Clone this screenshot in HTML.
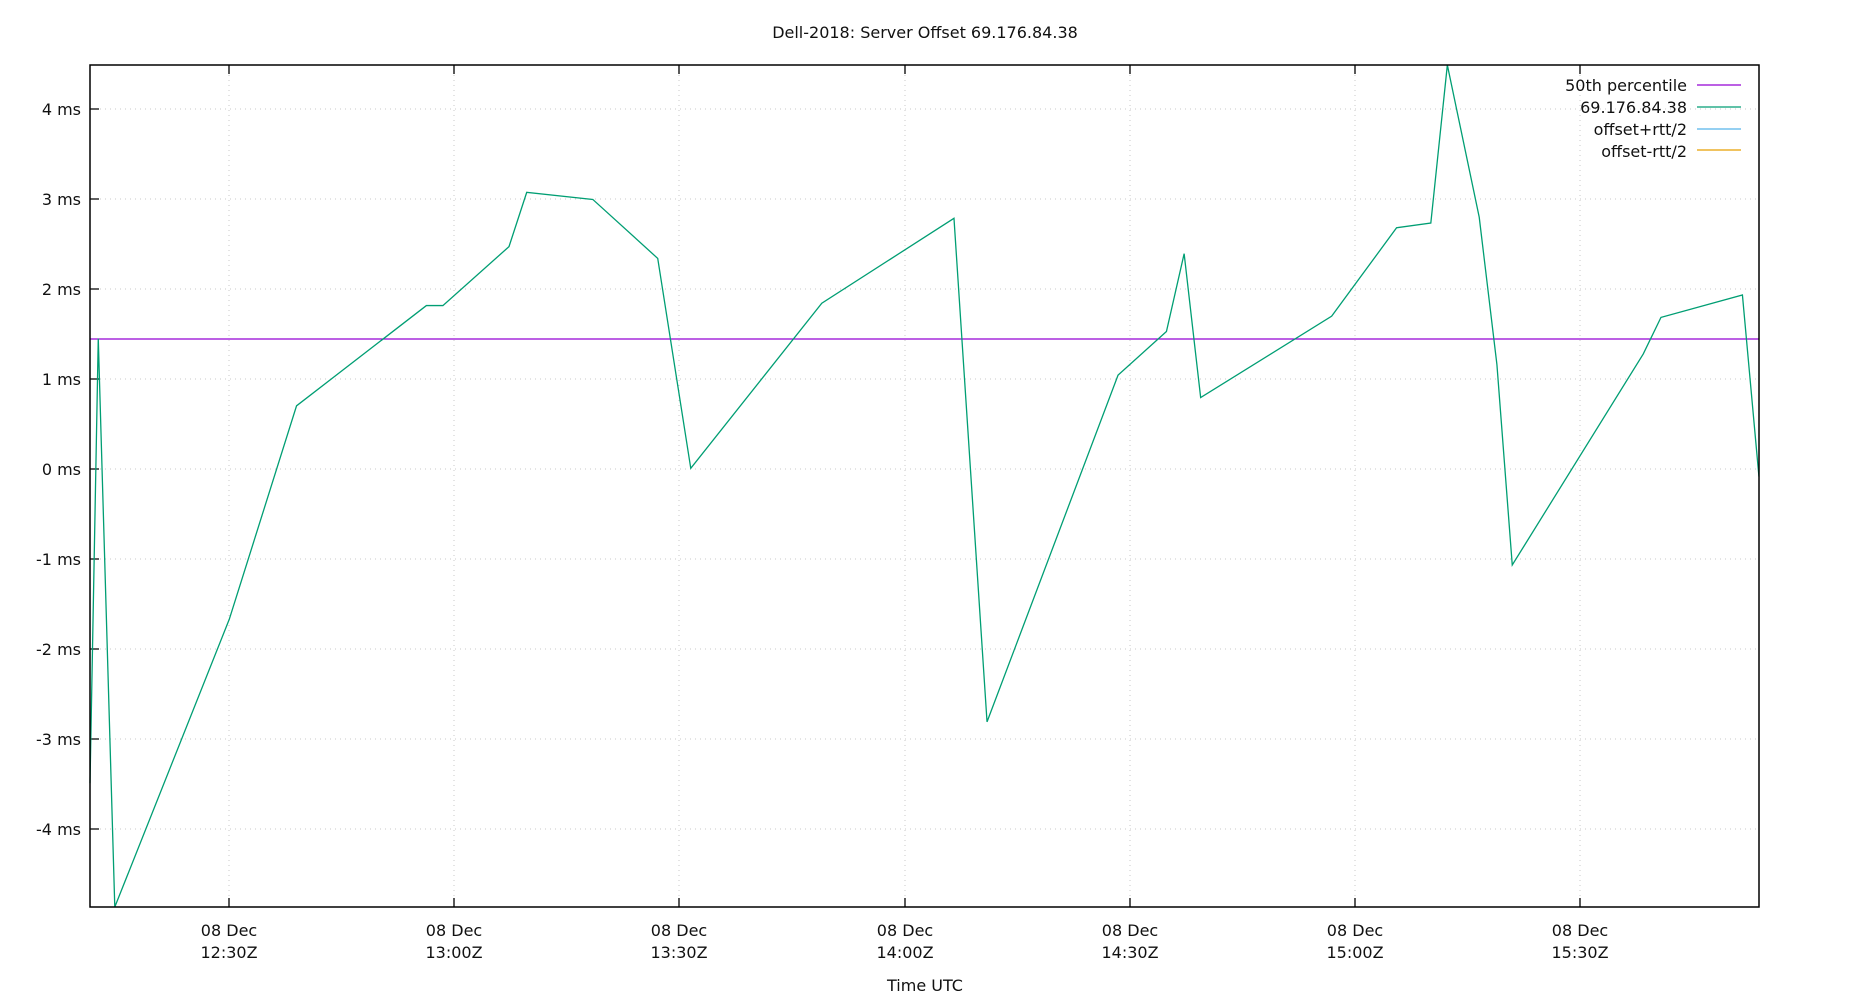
<!DOCTYPE html>
<html><head><meta charset="utf-8"><style>
html,body{margin:0;padding:0;background:#fff;}
svg{display:block;font-family:"DejaVu Sans","Liberation Sans",sans-serif;}
</style></head><body>
<svg width="1850" height="1000" viewBox="0 0 1850 1000" xmlns="http://www.w3.org/2000/svg">
<rect width="1850" height="1000" fill="#fff"/>
<g stroke="#c8c8c8" stroke-width="1" stroke-dasharray="1,4">
<line x1="90" y1="109" x2="1759" y2="109"/><line x1="90" y1="199" x2="1759" y2="199"/>
<line x1="90" y1="289" x2="1759" y2="289"/><line x1="90" y1="379" x2="1759" y2="379"/>
<line x1="90" y1="469" x2="1759" y2="469"/><line x1="90" y1="559" x2="1759" y2="559"/>
<line x1="90" y1="649" x2="1759" y2="649"/><line x1="90" y1="739" x2="1759" y2="739"/>
<line x1="90" y1="829" x2="1759" y2="829"/>
<line x1="229" y1="65" x2="229" y2="907"/><line x1="454" y1="65" x2="454" y2="907"/>
<line x1="679" y1="65" x2="679" y2="907"/><line x1="905" y1="65" x2="905" y2="907"/>
<line x1="1130" y1="65" x2="1130" y2="907"/><line x1="1355" y1="65" x2="1355" y2="907"/>
<line x1="1580" y1="65" x2="1580" y2="907"/>
</g>
<g stroke="#000" stroke-width="1.3">
<path d="M90,109h9M90,199h9M90,289h9M90,379h9M90,469h9M90,559h9M90,649h9M90,739h9M90,829h9"/>
<path d="M229,907v-9M454,907v-9M679,907v-9M905,907v-9M1130,907v-9M1355,907v-9M1580,907v-9"/>
<path d="M229,65v9M454,65v9M679,65v9M905,65v9M1130,65v9M1355,65v9M1580,65v9"/>
</g>
<line x1="90" y1="339" x2="1759" y2="339" stroke="#9400d3" stroke-width="1.3"/>
<g transform="translate(90,65) scale(1.1803,1.1793) translate(-77,-56)">
<polyline fill="none" stroke="#009e73" stroke-width="1.3" vector-effect="non-scaling-stroke" points="77,665 84,288 98,770 195,526 252,345 362,260 376,260 432,210 447,164 503,170 558,220 586,398 697,258 809,186 837,613 948,319 989,282 1004,216 1018,338 1129,269 1184,194 1213,190 1227,56 1254,185 1269,310 1282,480 1393,301 1408,270 1477,251 1491,405"/>
</g>
<rect x="90" y="65" width="1669" height="842" fill="none" stroke="#000" stroke-width="1.5"/>
<g font-size="16" fill="#111" text-anchor="end">
<text x="81" y="115">4 ms</text><text x="81" y="205">3 ms</text><text x="81" y="295">2 ms</text>
<text x="81" y="385">1 ms</text><text x="81" y="475">0 ms</text><text x="81" y="565">-1 ms</text>
<text x="81" y="655">-2 ms</text><text x="81" y="745">-3 ms</text><text x="81" y="835">-4 ms</text>
</g>
<g font-size="16" fill="#111" text-anchor="middle">
<text x="229" y="936">08 Dec</text><text x="229" y="958">12:30Z</text>
<text x="454" y="936">08 Dec</text><text x="454" y="958">13:00Z</text>
<text x="679" y="936">08 Dec</text><text x="679" y="958">13:30Z</text>
<text x="905" y="936">08 Dec</text><text x="905" y="958">14:00Z</text>
<text x="1130" y="936">08 Dec</text><text x="1130" y="958">14:30Z</text>
<text x="1355" y="936">08 Dec</text><text x="1355" y="958">15:00Z</text>
<text x="1580" y="936">08 Dec</text><text x="1580" y="958">15:30Z</text>
<text x="925" y="38">Dell-2018: Server Offset 69.176.84.38</text>
<text x="925" y="991">Time UTC</text>
</g>
<g font-size="16" fill="#111" text-anchor="end">
<text x="1687" y="91">50th percentile</text>
<text x="1687" y="113">69.176.84.38</text>
<text x="1687" y="135">offset+rtt/2</text>
<text x="1687" y="157">offset-rtt/2</text>
</g>
<g stroke-width="1.3">
<line x1="1697" y1="85" x2="1741" y2="85" stroke="#9400d3"/>
<line x1="1697" y1="107" x2="1741" y2="107" stroke="#009e73"/>
<line x1="1697" y1="129" x2="1741" y2="129" stroke="#56b4e9"/>
<line x1="1697" y1="150" x2="1741" y2="150" stroke="#e69f00"/>
</g>
</svg>
</body></html>
